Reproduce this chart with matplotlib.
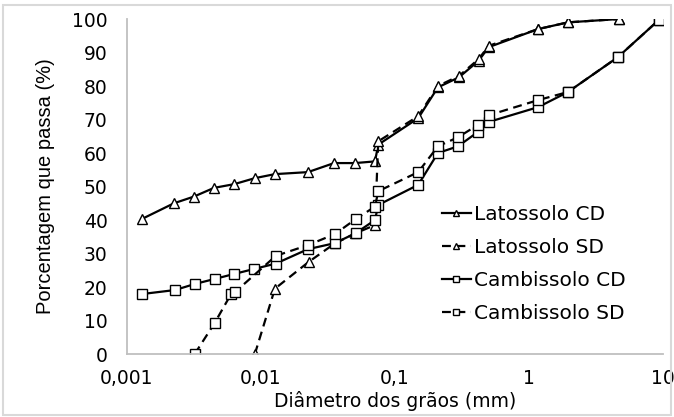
import matplotlib
matplotlib.use("Agg")
import matplotlib.pyplot as plt
from matplotlib.patches import Rectangle

# grain diameter (mm) and percent passing
lat_cd_x = [0.00129, 0.00224, 0.00316, 0.00446, 0.0063, 0.009, 0.0127, 0.0224, 0.0351, 0.0503, 0.0709, 0.075,
            0.149, 0.209, 0.30, 0.42, 0.50, 1.17, 1.95, 4.7]
lat_cd_y = [40.3, 45, 47, 49.6, 50.7, 52.5, 53.7, 54.3, 57, 57, 57.5, 62.5,
            70.4, 79.6, 82.6, 87.5, 91.6, 97, 99, 100]

lat_sd_x = [0.009, 0.0127, 0.0227, 0.0355, 0.0505, 0.0709, 0.075,
            0.149, 0.209, 0.30, 0.42, 0.50, 1.17, 1.95, 4.7]
lat_sd_y = [0, 19.5, 27.5, 33, 36, 38.5, 63.5,
            71, 80, 83, 88, 92, 97, 99, 100]

cam_cd_x = [0.00129, 0.00228, 0.0032, 0.0045, 0.0063, 0.0089, 0.0129, 0.0224, 0.0356, 0.051, 0.0709, 0.075,
            0.149, 0.209, 0.295, 0.416, 0.503, 1.17, 1.95, 4.6, 9.3]
cam_cd_y = [17.9, 19.1, 20.9, 22.4, 23.9, 25.4, 27, 31.3, 33.1, 36.1, 40, 44.5,
            50.5, 60, 62, 66.3, 69.3, 73.7, 78.2, 88.6, 99.7]

cam_sd_x = [0.0032, 0.0045, 0.0060, 0.0064, 0.0129, 0.0224, 0.0356, 0.051, 0.0709, 0.075,
            0.149, 0.209, 0.295, 0.416, 0.503, 1.17, 1.95, 4.6, 9.3]
cam_sd_y = [0, 9.2, 18, 18.5, 29.3, 32.5, 35.8, 40.3, 44, 48.6,
            54.3, 62, 64.7, 68.4, 71.3, 75.8, 78.2, 88.6, 99.7]

x_ticks = [0.001, 0.01, 0.1, 1, 10]
x_tick_labels = ["0,001", "0,01", "0,1", "1", "10"]
y_ticks = [0, 10, 20, 30, 40, 50, 60, 70, 80, 90, 100]

# the source picture is a bit stretched sideways, so the horizontal texts
# use the wider DejaVu Sans; the rotated y label stays in the Arial clone
plt.rcParams['font.family'] = ['DejaVu Sans']

fig = plt.figure(figsize=(6.74, 4.17), dpi=100)
ax = fig.add_axes([0.1884, 0.151, 0.7953, 0.8034])

mk = dict(markerfacecolor='white', markeredgecolor='black', markeredgewidth=1.0, color='black', lw=1.6)
ax.plot(lat_cd_x, lat_cd_y, marker='^', ms=7, ls='-', label='Latossolo CD', **mk)
ax.plot(lat_sd_x, lat_sd_y, marker='^', ms=7, ls=(0, (4, 2.5)), label='Latossolo SD', **mk)
ax.plot(cam_cd_x, cam_cd_y, marker='s', ms=7, ls='-', label='Cambissolo CD', **mk)
ax.plot(cam_sd_x, cam_sd_y, marker='s', ms=7, ls=(0, (4, 2.5)), label='Cambissolo SD', **mk)

ax.set_xscale('log')
ax.set_xlim(0.001, 10)
ax.set_ylim(0, 100)
ax.set_xticks(x_ticks)
ax.set_xticklabels(x_tick_labels)
ax.minorticks_off()
ax.set_yticks(y_ticks)
ax.tick_params(length=0, labelsize=13.5)
ax.tick_params(axis='y', pad=14)
ax.tick_params(axis='x', pad=11)

for side in ['top', 'right']:
    ax.spines[side].set_visible(False)
for side in ['left', 'bottom']:
    ax.spines[side].set_color('#bfbfbf')
    ax.spines[side].set_linewidth(1.3)

ax.set_xlabel('Diâmetro dos grãos (mm)', fontsize=13.5, labelpad=2)
ax.set_ylabel('Porcentagem que passa (%)', fontsize=14.5, labelpad=12, family='Liberation Sans')

leg = ax.legend(loc='upper left', bbox_to_anchor=(0.553, 0.50), frameon=False, fontsize=14.5,
                handlelength=1.45, handletextpad=0.15, labelspacing=0.7, markerscale=0.55)

fig.patches.append(Rectangle((0.004, 0.004), 0.992, 0.985, transform=fig.transFigure,
                             fill=False, edgecolor='#d9d9d9', lw=1.5))

fig.savefig('out.png', dpi=100)
